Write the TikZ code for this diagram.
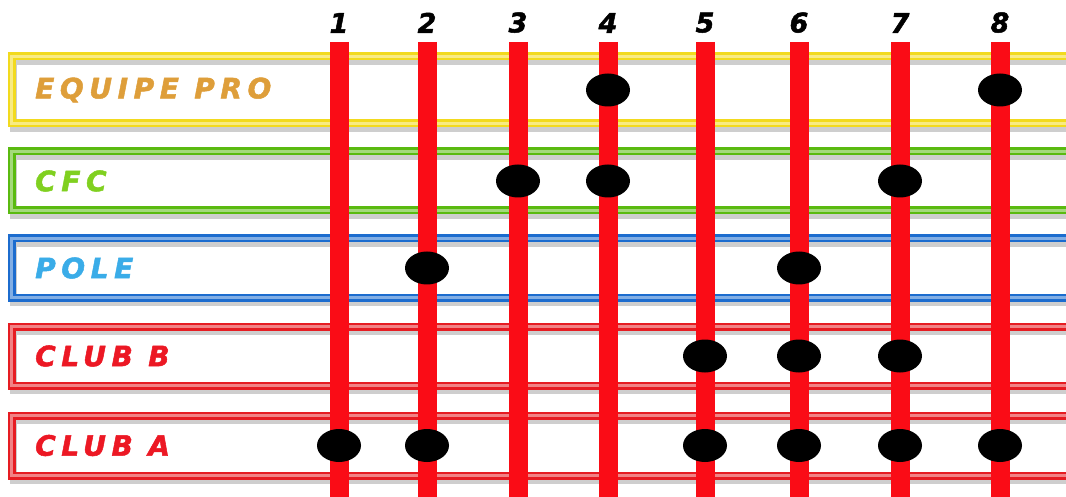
\documentclass[tikz,border=0pt]{standalone}
\usepackage{fontspec}
\setmainfont{DejaVu Sans}
\usepackage{xcolor}
\usepackage{tikz}
\usetikzlibrary{positioning, shapes.geometric}
\newfontfamily\lblfont[LetterSpace=20, BoldItalicFeatures={FakeBold=1.8}]{DejaVu Sans}
\newfontfamily\numfont[BoldItalicFeatures={FakeBold=1.8}]{DejaVu Sans}
\definecolor{barred}{RGB}{250,12,22}
\definecolor{proframe}{RGB}{242,218,30}
\definecolor{protext}{RGB}{222,158,58}
\definecolor{cfcframe}{RGB}{90,186,16}
\definecolor{cfctext}{RGB}{128,208,32}
\definecolor{poleframe}{RGB}{28,108,206}
\definecolor{poletext}{RGB}{58,172,232}
\definecolor{clubframe}{RGB}{230,28,34}
\definecolor{clubtext}{RGB}{236,24,36}

\begin{document}
\begin{tikzpicture}[x=1pt, y=-1pt,
    frame/.style={line width=2.8pt, double distance=2.4pt},
    frameshade/.style={draw=gray!70, line width=7pt, opacity=0.55},
    rowlbl/.style={anchor=west, inner sep=0pt,
      font=\lblfont\bfseries\itshape\fontsize{28}{28}\selectfont},
    numlbl/.style={inner sep=0pt, font=\numfont\bfseries\itshape\fontsize{27}{27}\selectfont},
    bar/.style={draw=barred, line width=19pt},
    dot/.style={ellipse, fill=black, minimum width=44pt, minimum height=33pt, inner sep=0pt}]
  \useasboundingbox (0,0) rectangle (1066,497);
  % row frames
  \foreach \r/\ya/\yb/\fc/\tc/\lab in {1/56.5/123.5/proframe/protext/{EQUIPE PRO},
                                       2/151.5/210.5/cfcframe/cfctext/{CFC},
                                       3/238.5/297.5/poleframe/poletext/{POLE},
                                       4/326.5/385.5/clubframe/clubtext/{CLUB B},
                                       5/415.5/475.5/clubframe/clubtext/{CLUB A}}{
    \draw[frameshade] (13.5,\ya+5) rectangle (1090,\yb+5);
    \draw[frame, draw=\fc, double=\fc!55!white] (11.5,\ya) rectangle (1090,\yb);
    \coordinate (r\r) at (0,{(\ya+\yb)/2});
    \node[rowlbl, text=\tc] (l\r) at (35,{(\ya+\yb)/2}) {\lab};
  }
  % columns
  \foreach \i/\x in {1/339,2/427,3/518,4/608,5/705,6/799,7/900,8/1000}{
    \coordinate (t\i) at (\x,42);
    \coordinate (b\i) at (\x,500);
    \node[numlbl, above=9pt of t\i] (n\i) {\i};
    \draw[bar] (t\i) -- (b\i);
  }
  \foreach \r/\c in {1/4,1/8,2/3,2/4,2/7,3/2,3/6,4/5,4/6,4/7,5/1,5/2,5/5,5/6,5/7,5/8}{
    \node[dot] (d\r\c) at (t\c |- r\r) {};
  }
\end{tikzpicture}
\end{document}
